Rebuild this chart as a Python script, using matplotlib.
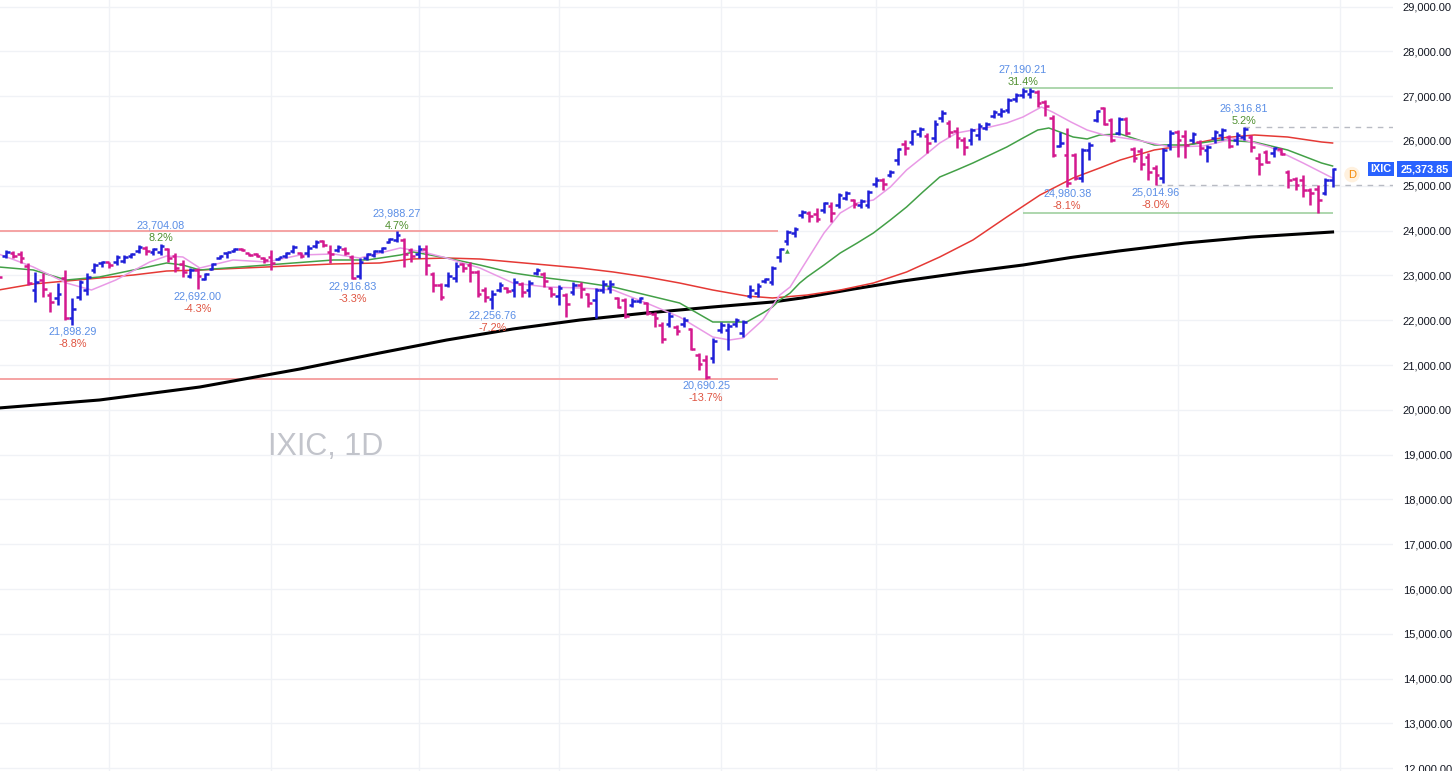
import numpy as np
import matplotlib.pyplot as plt
from matplotlib.ticker import FuncFormatter
from matplotlib.transforms import blended_transform_factory

plt.rcParams['font.family'] = ['Liberation Sans', 'DejaVu Sans']

# daily OHLC (oldest first)
opens = [23121, 23433, 23500, 23478, 23210, 22674, 22897, 22562, 22496, 22942,
         22050, 22518, 22674, 23121, 23277, 23290, 23299, 23322, 23433, 23545,
         23612, 23522, 23522, 23589, 23433, 23255, 22987, 23121, 22920, 23143,
         23388, 23500, 23545, 23589, 23495, 23478, 23388, 23411, 23366, 23433,
         23545, 23500, 23500, 23656, 23768, 23522, 23567, 23589, 23411, 22987,
         23388, 23455, 23545, 23746, 23790, 23790, 23567, 23478, 23589, 23032,
         22785, 22785, 22942, 23255, 23232, 23076, 22674, 22473, 22674, 22719,
         22674, 22808, 22674, 23054, 23032, 22719, 22540, 22562, 22629, 22785,
         22585, 22451, 22674, 22719, 22496, 22451, 22339, 22429, 22384, 22139,
         21893, 21915, 21848, 21915, 21804, 21223, 21112, 21156, 21781, 21781,
         21915, 21714, 22540, 22607, 22875, 22852, 23411, 23768, 23947, 24348,
         24393, 24370, 24460, 24549, 24571, 24727, 24683, 24571, 24571, 25040,
         25129, 25241, 25576, 25933, 25977, 26156, 26112, 26067, 26513, 26402,
         26223, 26022, 26022, 26134, 26290, 26558, 26603, 26692, 26937, 27026,
         27049, 27093, 26870, 26513, 25888, 25687, 25687, 25174, 25799, 26469,
         26736, 26469, 26179, 26491, 25821, 25777, 25643, 25397, 25174, 25911,
         26201, 26112, 26022, 25977, 25799, 26067, 26134, 26089, 26022, 26089,
         26089, 25620, 25754, 25732, 25821, 25308, 25152, 25129, 24906, 24929,
         24839, 25129]
highs = [23165, 23567, 23545, 23545, 23277, 23076, 23054, 22629, 22830, 23121,
         22496, 22897, 23054, 23277, 23322, 23299, 23455, 23455, 23500, 23679,
         23656, 23612, 23704.08, 23612, 23500, 23344, 23165, 23165, 23054, 23277,
         23455, 23522, 23612, 23612, 23500, 23500, 23411, 23567, 23411, 23522,
         23679, 23522, 23679, 23790, 23790, 23679, 23679, 23634, 23455, 23388,
         23500, 23567, 23634, 23835, 23988.27, 23835, 23612, 23679, 23679, 23076,
         22830, 23076, 23299, 23277, 23299, 23121, 22741, 22674, 22852, 22741,
         22942, 22852, 22897, 23165, 23076, 22741, 22785, 22607, 22852, 22852,
         22607, 22719, 22897, 22897, 22518, 22496, 22496, 22518, 22406, 22183,
         21960, 22183, 21893, 22072, 21826, 21268, 21223, 21603, 21960, 21938,
         22050, 22005, 22785, 22830, 22942, 23210, 23612, 24013, 24080, 24460,
         24437, 24504, 24638, 24638, 24839, 24884, 24705, 24705, 24906, 25196,
         25174, 25353, 25844, 26022, 26245, 26312, 26179, 26469, 26692, 26469,
         26312, 26089, 26290, 26402, 26424, 26692, 26736, 26960, 27071, 27190.21,
         27175, 27138, 26915, 26580, 26201, 26290, 25732, 25844, 25978, 26692,
         26759, 26513, 26536, 26536, 25866, 25844, 25732, 25464, 25844, 26245,
         26245, 26245, 26201, 26022, 25911, 26245, 26290, 26134, 26201, 26316.81,
         26134, 25732, 25799, 25866, 25844, 25353, 25196, 25241, 24951, 25018,
         25174, 25397]
lows = [22852, 23388, 23388, 23277, 22785, 22406, 22518, 22183, 22339, 22005,
        21898.29, 22451, 22562, 23054, 23188, 23165, 23232, 23277, 23388, 23500,
        23455, 23455, 23455, 23299, 23076, 22965, 22942, 22692.00, 22897, 23121,
        23366, 23388, 23522, 23545, 23433, 23411, 23277, 23121, 23344, 23388,
        23500, 23388, 23411, 23612, 23634, 23277, 23522, 23455, 22916.83, 22930,
        23344, 23411, 23500, 23723, 23746, 23188, 23299, 23388, 23009, 22629,
        22451, 22741, 22852, 23076, 22852, 22518, 22406, 22256.76, 22629, 22607,
        22518, 22518, 22518, 23009, 22741, 22518, 22339, 22071, 22562, 22496,
        22295, 22050, 22607, 22607, 22272, 22050, 22295, 22384, 22117, 21848,
        21491, 21848, 21670, 21848, 21335, 20889, 20690.25, 21045, 21714, 21335,
        21848, 21625, 22496, 22518, 22830, 22785, 23299, 23679, 23857, 24281,
        24192, 24192, 24393, 24192, 24504, 24683, 24504, 24504, 24504, 24973,
        24906, 25196, 25464, 25687, 25911, 26089, 25732, 25978, 26424, 26089,
        25844, 25687, 25911, 26022, 26245, 26513, 26536, 26625, 26870, 26960,
        26960, 26759, 26558, 25643, 25866, 24980.38, 25129, 25085, 25576, 26424,
        26357, 25978, 26134, 26134, 25531, 25353, 25129, 25014.96, 25062, 25799,
        25643, 25620, 25955, 25687, 25531, 25955, 26022, 25844, 25911, 26022,
        25754, 25241, 25509, 25643, 25687, 24951, 24906, 24750, 24571, 24400,
        24794, 24973]
closes = [22965, 23522, 23433, 23388, 22830, 22852, 22696, 22406, 22585, 22050,
          22250, 22852, 22965, 23232, 23310, 23232, 23411, 23411, 23478, 23634,
          23545, 23589, 23656, 23388, 23165, 23076, 23121, 22987, 23032, 23255,
          23433, 23515, 23589, 23567, 23455, 23433, 23344, 23277, 23405, 23500,
          23634, 23433, 23612, 23746, 23679, 23478, 23634, 23500, 22942, 23299,
          23478, 23545, 23612, 23813, 23902, 23478, 23433, 23589, 23232, 22785,
          22518, 22987, 23210, 23165, 23076, 22585, 22518, 22585, 22785, 22652,
          22852, 22629, 22830, 23121, 22875, 22585, 22719, 22362, 22785, 22696,
          22384, 22674, 22808, 22808, 22295, 22094, 22429, 22496, 22161, 22050,
          21580, 22094, 21759, 22005, 21357, 21022, 20732, 21536, 21893, 21870,
          22005, 21960, 22674, 22763, 22920, 23165, 23589, 23969, 24035, 24415,
          24326, 24259, 24616, 24393, 24794, 24839, 24594, 24660, 24861, 25129,
          25040, 25308, 25821, 25844, 26223, 26268, 25955, 26380, 26625, 26201,
          26067, 25866, 26245, 26335, 26380, 26647, 26670, 26915, 27026, 27116,
          27116, 26848, 26781, 25687, 25955, 25062, 25174, 25799, 25911, 26670,
          26380, 26022, 26491, 26179, 25620, 25486, 25308, 25241, 25799, 26179,
          26022, 25911, 26156, 25844, 25866, 26201, 26245, 25888, 26134, 26268,
          25866, 25486, 25530, 25844, 25700, 25129, 25018, 24906, 24839, 24683,
          25129, 25373.85]

# moving averages, sampled along the chart (bar position, value)
ma_fast_x = [0, 4.7, 9.2, 12.6, 15.9, 20.5, 22.8, 25, 27.3, 31.8, 36.4, 40.9, 45.4, 49,
             54.5, 57.6, 60.8, 65.3, 69.8, 74.4, 78.9, 83.4, 87.9, 92.4, 96.9, 99.2,
             101, 103.7, 106, 107.4, 109.7, 112, 114.2, 116.5, 118.7, 121, 123.2,
             125.4, 127.7, 130, 132.2, 134.5, 136.8, 139, 141.5, 143, 145.5, 147.7,
             150, 154.4, 159, 163.5, 168, 172.5, 177, 181]
ma_fast = [23478, 23188, 22830, 22674, 22897, 23299, 23433, 23411, 23165, 23344, 23299,
           23455, 23478, 23388, 23612, 23522, 23388, 23165, 22830, 22741, 22719, 22674,
           22384, 22072, 21625, 21558, 21603, 22005, 22562, 22741, 23344, 23947, 24393,
           24616, 24683, 24973, 25353, 25643, 25955, 26179, 26245, 26312, 26402, 26536,
           26759, 26647, 26424, 26245, 26134, 26022, 25866, 25888, 26067, 25866, 25509,
           25174]
ma_mid_x = [0, 4.7, 9.2, 13.7, 18.3, 22.8, 25, 27.3, 36.4, 45.4, 50, 54.5, 56.3, 60.8,
            65.3, 69.8, 74.4, 78.9, 83.4, 87.9, 92.4, 96.9, 101.5, 103.7, 105, 106,
            107.4, 108.7, 109.7, 112, 114.2, 116.5, 118.7, 121, 123.2, 125.4, 127.7,
            130, 132.2, 134.5, 136.8, 139, 141, 142.5, 144, 145.8, 147.7, 149.4, 152.2,
            156.8, 161.3, 165.8, 170.4, 174.9, 179.5, 181]
ma_mid = [23188, 23121, 22897, 22965, 23121, 23277, 23232, 23121, 23232, 23344, 23344,
          23455, 23522, 23388, 23232, 23054, 22942, 22852, 22741, 22562, 22384, 21960,
          21960, 22161, 22295, 22451, 22607, 22830, 22965, 23232, 23500, 23723, 23947,
          24237, 24527, 24861, 25196, 25353, 25509, 25687, 25866, 26067, 26245, 26290,
          26201, 26089, 26045, 26134, 26156, 25911, 25911, 26022, 25977, 25799, 25509,
          25442]
ma_slow_x = [0, 4.7, 9.2, 13.7, 18.3, 22.8, 27.3, 36.4, 45.4, 51.7, 56, 60.8, 65.3, 69.8,
             74.4, 78.9, 83.4, 87.9, 92.4, 96.9, 101.5, 105, 109.7, 114.2, 118.7, 123.2,
             127.7, 132.2, 136.8, 141.3, 145.8, 149.4, 152.2, 156.8, 161.3, 165.8, 170.4,
             174.9, 179.5, 181]
ma_slow = [22674, 22808, 22875, 22942, 23009, 23098, 23121, 23188, 23255, 23277, 23366,
           23388, 23366, 23299, 23232, 23165, 23076, 22965, 22830, 22674, 22540, 22496,
           22562, 22674, 22830, 23076, 23411, 23790, 24304, 24794, 25174, 25397, 25576,
           25799, 25911, 26067, 26134, 26089, 25978, 25955]
ma_long_x = [0, 13.7, 27.3, 40.9, 51.7, 60.8, 69.8, 78.9, 87.9, 96.9, 105, 109, 116,
             122.7, 131, 139, 145.5, 152, 161, 170, 181]
ma_long = [20040, 20219, 20509, 20911, 21268, 21558, 21804, 22005, 22161, 22295, 22406,
           22496, 22696, 22875, 23065, 23232, 23400, 23545, 23723, 23857, 23969]

# swing labels: bar index and % move
swing_high_idx = [22, 54, 139, 169]
swing_high_pct = [8.2, 4.7, 31.4, 5.2]
swing_low_idx = [10, 27, 48, 67, 96, 145, 157]
swing_low_pct = [-8.8, -4.3, -3.3, -7.2, -13.7, -8.1, -8.0]

month_starts = [15, 37, 57, 76, 98, 119, 139, 160, 182]
price_ticks = list(range(12000, 29001, 1000))

BLUE = '#1f1fd8'
PINK = '#d4198f'
LABEL_BLUE = '#5a8ee6'

opens = np.array(opens)
highs = np.array(highs)
lows = np.array(lows)
closes = np.array(closes)
x = np.arange(len(closes))
colors = np.where(closes >= opens, BLUE, PINK)

W, H = 1456, 771
fig = plt.figure(figsize=(W / 100, H / 100), dpi=100)
ax = fig.add_axes([0, 0, 1393 / W, 1])
ax.set_xlim(0.19, 189.2)
ax.set_ylim(11938, 29147)

ax.set_yticks(price_ticks)
ax.set_xticks(month_starts)
ax.grid(True, color='#f0f2f6', lw=1)
ax.set_axisbelow(True)
for s in ax.spines.values():
    s.set_visible(False)
ax.tick_params(axis='x', length=0, labelbottom=False)
ax.yaxis.tick_right()
ax.tick_params(axis='y', length=0, pad=7, labelsize=8, labelcolor='#131722')
ax.yaxis.set_major_formatter(FuncFormatter(lambda v, _: f"{v:,.2f}"))

# level lines
ax.hlines([highs[54], lows[96]], 0.19, 105.8, color='#f5a3a3', lw=1.4, zorder=1)
ax.hlines([highs[139], lows[179]], 139, 181, color='#9fd09f', lw=1.2, zorder=1)
ax.hlines(highs[169], 169, 189.2, color='#b8bbc3', lw=1, linestyles=(0, (4, 4)), zorder=1)
ax.hlines(lows[157], 157, 189.2, color='#b8bbc3', lw=1, linestyles=(0, (4, 4)), zorder=1)

# moving averages
ax.plot(ma_long_x, ma_long, color='black', lw=2.2, zorder=2)
ax.plot(ma_slow_x, ma_slow, color='#e53935', lw=1.1, zorder=2)
ax.plot(ma_mid_x, ma_mid, color='#43a047', lw=1.1, zorder=2)
ax.plot(ma_fast_x, ma_fast, color='#e99ae6', lw=1.1, zorder=2)

# OHLC bars
ax.vlines(x, lows, highs, colors=colors, lw=1.8, capstyle='butt', zorder=3)
ax.hlines(opens, x - 0.5, x, colors=colors, lw=1.8, capstyle='butt', zorder=3)
ax.hlines(closes, x, x + 0.5, colors=colors, lw=1.8, capstyle='butt', zorder=3)

# swing labels
for i, pct in zip(swing_high_idx, swing_high_pct):
    ax.annotate(f"{highs[i]:,.2f}", (i, highs[i]), xytext=(0, 13), textcoords='offset points',
                ha='center', va='center', fontsize=7.8, color=LABEL_BLUE)
    ax.annotate(f"{pct:.1f}%", (i, highs[i]), xytext=(0, 4), textcoords='offset points',
                ha='center', va='center', fontsize=7.8, color='#4f8f2f')
for i, pct in zip(swing_low_idx, swing_low_pct):
    ax.annotate(f"{lows[i]:,.2f}", (i, lows[i]), xytext=(0, -5), textcoords='offset points',
                ha='center', va='center', fontsize=7.8, color=LABEL_BLUE)
    ax.annotate(f"{pct:.1f}%", (i, lows[i]), xytext=(0, -14), textcoords='offset points',
                ha='center', va='center', fontsize=7.8, color='#df5340')

# small signal marker
ax.annotate('\u25B2', (107, lows[107]), xytext=(0, -5), textcoords='offset points',
            ha='center', va='center', fontsize=4.5, color='#43a047',
            family=['DejaVu Sans'])

# watermark
ax.text(268 / 1393, (H - 455) / H, 'IXIC, 1D', transform=ax.transAxes, ha='left',
        va='baseline', fontsize=22, color='#c2c4cb')

# last price label
trans = blended_transform_factory(ax.transAxes, ax.transData)
ax.text(1381 / 1393, closes[-1], 'IXIC', transform=trans, ha='center', va='center',
        fontsize=7.8, color='white', fontweight='bold', clip_on=False,
        bbox=dict(boxstyle='square,pad=0.22', fc='#2962ff', ec='none'))
ax.text(1424.5 / 1393, closes[-1], f"{closes[-1]:,.2f}", transform=trans, ha='center',
        va='center', fontsize=7.8, color='white', fontweight='bold', clip_on=False,
        bbox=dict(boxstyle='square,pad=0.3', fc='#2962ff', ec='none'))
ax.annotate('D', (x[-1], closes[-1]), xytext=(14, -4), textcoords='offset points',
            ha='center', va='center', fontsize=8, color='#f58a07',
            bbox=dict(boxstyle='circle,pad=0.25', fc='#fff1de', ec='none'))

fig.savefig('out.png', dpi=100)
